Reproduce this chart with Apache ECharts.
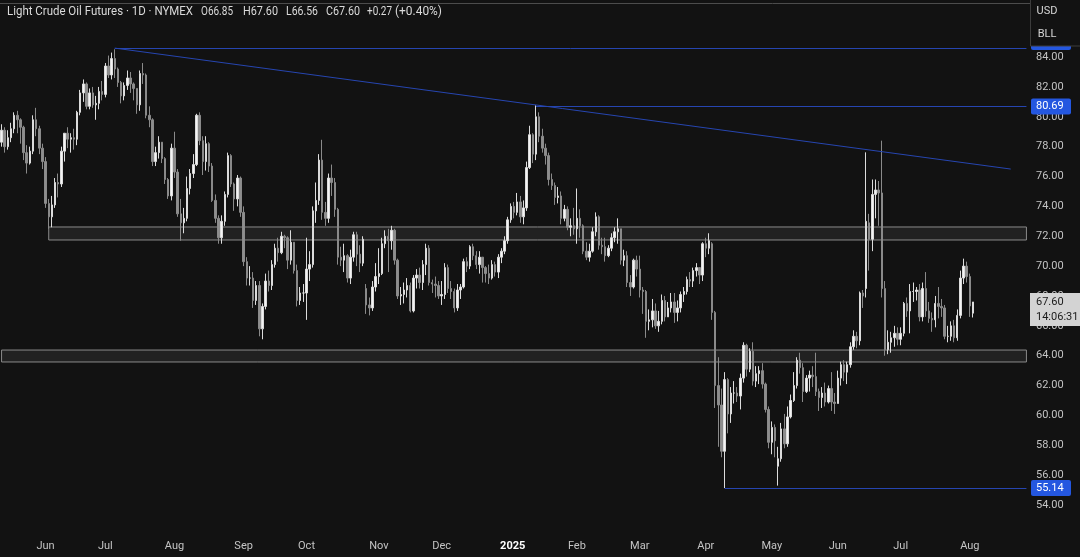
<!DOCTYPE html>
<html><head><meta charset="utf-8">
<script src="https://cdn.jsdelivr.net/npm/echarts@6/dist/echarts.min.js"></script>
<style>html,body{margin:0;padding:0;background:#121212;overflow:hidden}#c{width:1080px;height:557px}</style>
</head><body><div id="c"></div><script>
// ---------- DATA ----------
const firstDate = '2024-05-13';
const holidays = ['2024-05-27','2024-06-19','2024-07-04','2024-09-02','2024-11-28','2024-12-25','2025-01-01','2025-04-18','2025-05-26','2025-06-19','2025-07-04'];
const futureBars = 17;
const monthNames = ['Jan','Feb','Mar','Apr','May','Jun','Jul','Aug','Sep','Oct','Nov','Dec'];
// each bar: [open, close, low, high]
const may24 = [[78.3,79.1,78.0,79.5],[79.1,78.0,77.6,79.3],[78.0,78.6,77.8,79.1],[78.6,79.2,78.3,79.6],[79.2,80.1,78.9,80.3],
[80.1,79.8,78.9,80.4],[79.8,79.3,78.2,79.9],[79.3,77.6,77.1,79.4],[77.6,76.9,76.2,78.1],[76.9,77.7,76.8,78.0],
[77.7,79.8,77.5,80.1],[79.8,79.2,78.7,80.6],[79.2,77.9,77.5,79.4],[77.9,77.0,76.5,78.2]];
const jun24 = [[77.0,74.2,73.9,77.3],[74.2,73.3,72.5,74.5],[73.3,74.1,72.6,74.7],[74.1,75.6,73.9,75.9],[75.6,75.5,74.6,76.2],
[75.5,77.7,75.3,78.0],[77.7,78.9,77.0,78.9],[78.9,78.5,77.9,79.3],[78.5,78.6,77.6,78.9],[78.6,78.5,77.8,79.2],
[78.5,80.3,78.1,80.4],[80.3,81.6,80.1,81.8],[81.6,82.2,81.0,82.5],[82.2,80.7,80.5,82.3],
[80.7,81.6,80.5,81.9],[81.6,80.8,80.6,82.0],[80.8,80.9,79.8,81.4],[80.9,81.7,80.5,82.0],[81.7,81.5,81.1,82.4]];
const jul24 = [[81.5,83.4,81.3,83.6],[83.4,82.8,82.6,84.1],[82.8,83.9,82.5,84.3],[83.9,83.2,82.6,84.52],
[83.2,82.3,82.0,83.3],[82.3,81.4,80.9,82.4],[81.4,82.1,81.1,82.3],[82.1,82.6,81.8,83.1],[82.6,82.2,81.6,83.0],
[82.2,81.9,81.1,82.3],[81.9,80.8,80.2,81.9],[80.8,82.9,80.4,83.1],[82.9,82.8,82.2,83.6],[82.8,80.1,79.9,82.9],
[80.1,79.8,79.3,80.7],[79.8,77.0,76.7,79.9],[77.0,77.6,76.7,78.0],[77.6,78.3,77.2,78.7],[78.3,77.2,76.9,78.3],
[77.2,75.8,75.5,77.3],[75.8,74.7,74.5,75.9],[74.7,77.9,74.4,78.2]];
const aug24 = [[77.9,76.3,75.9,79.0],[76.3,73.5,73.3,76.5],
[73.5,72.9,71.7,74.5],[72.9,73.2,72.2,73.9],[73.2,75.2,73.0,76.0],[75.2,76.2,74.8,76.5],[76.2,76.8,75.9,77.5],
[76.8,80.1,76.7,80.2],[80.1,78.4,78.1,80.3],[78.4,77.0,76.1,78.7],[77.0,78.2,76.4,78.7],[78.2,76.7,76.3,78.3],
[76.7,74.4,74.3,76.9],[74.4,73.2,72.9,74.8],[73.2,71.9,71.5,73.4],[71.9,73.0,71.5,73.4],[73.0,74.8,72.7,75.0],
[74.8,77.4,74.6,77.6],[77.4,75.5,75.3,77.5],[75.5,74.5,73.7,75.6],[74.5,75.9,74.0,76.1],[75.9,73.6,73.3,76.0]];
const sep24 = [[73.6,70.3,70.0,74.0],[70.3,69.2,68.7,70.6],[69.2,69.2,68.7,70.0],[69.2,67.7,67.2,69.6],
[67.7,68.7,67.4,69.0],[68.7,65.8,65.3,69.0],[65.8,67.3,65.1,67.5],[67.3,69.0,67.1,69.5],[69.0,68.7,68.3,69.7],
[68.7,70.1,68.4,70.4],[70.1,71.2,69.9,71.5],[71.2,70.9,70.3,71.9],[70.9,72.0,70.8,72.3],[72.0,71.9,71.2,72.1],
[71.9,70.4,69.8,72.0],[70.4,71.6,70.1,72.4],[71.6,69.7,69.5,71.6],[69.7,67.7,67.3,70.1],[67.7,68.2,67.4,68.6],
[68.2,68.2,67.6,68.8]];
const oct24 = [[68.2,69.8,66.4,71.9],[69.8,70.1,69.0,71.0],[70.1,73.7,69.9,74.0],[73.7,74.4,72.9,75.6],
[74.4,77.1,74.1,77.5],[77.1,73.6,73.1,78.46],[73.6,73.2,72.7,74.3],[73.2,75.9,72.9,76.2],[75.9,75.6,74.7,76.8],
[75.6,73.8,73.3,75.9],[73.8,70.6,70.1,73.9],[70.6,70.4,70.0,71.3],[70.4,70.7,69.6,71.5],[70.7,69.2,68.9,70.8],
[69.2,70.6,68.8,71.1],[70.6,72.1,70.3,72.3],[72.1,70.8,70.0,72.3],[70.8,70.2,69.6,71.4],[70.2,71.8,70.0,72.0],
[68.5,67.4,66.8,68.8],[67.4,67.2,66.7,67.9],[67.2,68.6,67.0,69.0],[68.6,69.3,68.3,70.2]];
const nov24 = [[69.3,69.5,68.8,71.2],
[69.5,71.5,69.4,71.9],[71.5,72.0,71.2,72.4],[72.0,71.7,69.6,72.5],[71.7,72.4,71.1,72.7],[72.4,70.4,70.1,72.5],
[70.4,68.0,67.8,70.5],[68.0,68.1,67.4,68.6],[68.1,68.4,67.5,68.9],[68.4,68.7,67.9,69.2],[68.7,67.0,66.9,68.9],
[67.0,69.2,66.9,69.4],[69.2,69.4,68.5,69.8],[69.4,68.9,68.5,69.9],[68.9,70.1,68.4,70.4],[70.1,71.2,69.4,71.5],
[71.2,68.9,68.7,71.4],[68.9,68.8,68.2,69.1],[68.8,68.7,67.9,69.3],[68.7,68.0,67.8,69.0]];
const dec24 = [[68.0,68.1,67.4,69.0],[68.1,69.9,67.8,70.2],[69.9,68.5,68.2,70.1],[68.5,68.3,67.8,69.0],[68.3,67.2,66.9,68.5],
[67.2,68.4,67.0,68.8],[68.4,68.6,67.8,68.8],[68.6,70.3,68.5,70.5],[70.3,70.0,69.6,70.6],[70.0,71.3,69.8,71.4],
[71.3,70.7,70.4,71.5],[70.7,70.1,69.8,71.0],[70.1,70.6,69.5,71.0],[70.6,69.9,68.9,70.6],[69.9,69.5,68.9,70.0],
[69.5,69.2,68.8,70.1],[69.2,70.1,69.1,70.4],[70.1,69.6,69.3,70.3],[69.6,70.6,69.2,70.8],
[70.6,71.0,70.2,71.2],[71.0,71.7,70.8,72.0]];
const jan25 = [[71.7,73.1,71.5,73.3],[73.1,74.0,72.9,74.2],
[74.0,73.6,73.2,74.3],[73.6,74.3,73.4,74.9],[74.3,73.3,72.9,74.7],[73.3,73.9,72.8,74.4],[73.9,76.6,73.7,77.0],
[76.6,78.8,76.5,79.4],[78.8,77.5,76.9,78.9],[77.5,80.0,77.1,80.77],[80.0,78.7,78.3,80.3],[78.7,77.9,77.6,79.2],
[77.9,77.4,76.8,78.2],[77.4,75.8,75.4,77.6],[75.8,75.4,75.1,76.2],[75.4,74.6,74.1,75.6],[74.6,74.7,74.2,75.3],
[74.7,73.2,72.8,75.0],[73.2,73.8,73.0,74.1],[73.8,72.6,72.4,74.0],[72.6,72.7,72.0,73.2],[72.7,72.5,72.1,73.9]];
const feb25 = [[72.5,73.2,71.5,75.2],[73.2,72.7,71.9,73.8],[72.7,71.0,70.8,72.8],[71.0,70.6,70.4,71.6],[70.6,71.0,70.3,71.5],
[71.0,72.3,70.9,72.6],[72.3,73.3,72.0,73.6],[73.3,71.4,71.1,73.4],[71.4,71.3,70.8,71.9],[71.3,70.7,70.3,71.9],
[70.7,71.2,70.6,71.4],[71.2,71.9,71.0,72.2],[71.9,72.3,71.6,72.6],[72.3,72.5,71.5,73.2],[72.5,70.4,70.1,72.5],
[70.4,70.7,70.0,71.1],[70.7,68.9,68.6,71.0],[68.9,68.6,68.0,69.4],[68.6,70.4,68.5,70.5],[70.4,69.8,69.3,70.7]];
const mar25 = [[69.8,68.4,67.9,70.7],[68.4,68.3,66.8,68.6],[68.3,66.3,65.2,68.4],[66.3,66.4,65.7,67.1],[66.4,67.0,65.9,67.8],
[67.0,66.0,65.8,67.5],[66.0,66.3,65.6,67.0],[66.3,67.7,66.1,68.1],[67.7,66.6,66.3,68.0],[66.6,67.2,66.6,67.6],
[67.2,67.6,66.9,68.2],[67.6,66.9,66.2,68.2],[66.9,67.2,66.3,67.7],[67.2,68.1,66.9,68.3],[68.1,68.3,67.6,68.6],
[68.3,69.1,68.1,69.3],[69.1,69.0,68.6,69.6],[69.0,69.7,68.6,69.9],[69.7,69.9,69.3,70.2],[69.9,69.4,68.8,69.9],
[69.4,71.5,69.0,71.6]];
const apr25 = [[71.5,71.2,70.6,71.9],[71.2,71.7,70.8,72.2],[71.5,66.9,66.4,71.6],[66.9,62.0,60.5,67.0],
[62.0,60.7,57.9,63.9],[60.7,57.6,57.2,61.8],[57.6,62.4,55.14,62.9],[62.4,60.1,58.8,62.5],[60.1,61.5,59.5,61.9],
[61.5,61.5,60.8,62.3],[61.5,61.3,60.9,61.9],[61.3,62.5,60.4,62.8],[62.5,64.7,62.2,64.9],
[64.7,63.1,62.6,64.8],[63.1,64.3,62.9,64.5],[64.3,62.3,62.0,64.9],[62.3,62.8,61.9,63.3],[62.8,63.0,62.1,63.3],
[63.0,62.1,61.8,63.5],[62.1,60.4,60.2,62.2],[60.4,58.2,57.8,60.6]];
const may25 = [[58.2,59.2,57.4,59.6],[59.2,58.3,57.2,59.4],
[56.6,57.1,55.3,57.9],[57.1,59.1,56.9,59.5],[59.1,58.1,57.8,60.1],[58.1,59.9,57.9,60.6],[59.9,61.0,59.8,61.4],
[61.0,62.0,60.9,62.9],[62.0,63.7,61.8,63.9],[63.7,63.2,62.8,64.2],[63.2,61.6,60.9,63.5],[61.6,62.5,61.5,62.7],
[62.5,62.7,61.6,63.0],[62.7,62.6,61.9,63.3],[62.6,61.6,61.3,64.2],[61.6,61.2,60.3,61.8],[61.2,61.5,60.5,61.9],
[61.5,60.9,60.6,62.2],[60.9,61.8,60.8,62.0],[61.8,60.9,60.3,62.9],[60.9,60.8,60.1,61.5]];
const jun25 = [[60.8,62.5,60.8,63.0],[62.5,63.4,62.0,63.6],[63.4,62.9,62.3,63.7],[62.9,63.4,62.1,63.6],[63.4,64.6,63.2,64.9],
[64.6,65.3,64.4,65.7],[65.3,65.0,64.5,65.6],[65.0,68.2,64.7,68.3],[68.2,68.0,67.2,68.4],[68.5,73.0,67.9,77.62],
[72.9,71.8,69.7,73.5],[71.8,74.8,71.0,75.8],[74.8,75.1,73.2,75.8],[75.1,74.9,72.7,75.7],
[74.9,68.5,67.9,78.40],[68.5,64.4,64.0,69.0],[64.4,64.9,64.1,65.7],[64.9,65.2,64.2,65.6],[65.2,65.5,64.6,66.0],
[65.5,65.1,64.7,65.9]];
const jul25 = [[65.1,65.5,64.7,65.9],[65.5,67.5,65.3,67.6],[67.5,67.0,66.6,67.9],
[67.0,68.3,65.5,68.8],[68.3,68.3,67.6,68.9],[68.3,68.4,67.7,68.6],[68.4,66.6,66.3,68.8],[66.6,68.5,66.3,68.9],
[68.5,67.0,66.6,69.6],[67.0,66.5,66.2,67.6],[66.5,66.4,65.6,66.9],[66.4,67.5,65.9,68.0],[67.5,67.3,66.5,68.6],
[67.3,67.2,66.6,67.8],[67.2,65.3,65.1,67.4],[65.3,65.3,64.9,66.0],[65.3,66.0,65.0,66.3],[66.0,65.2,64.9,66.4],
[65.2,66.7,65.0,67.1],[66.7,69.2,66.5,69.7],[69.2,70.0,68.8,70.5],[70.0,69.3,68.9,70.3]];
const aug25 = [[69.3,67.33,66.6,69.5],[66.85,67.6,66.56,67.6]];

// drawings (date, price)
const trendline = [['2024-07-05', 84.6], ['2025-08-20', 76.5]];
const hLevels = [
  {from:'2024-07-05', value:84.6, label:''},
  {from:'2025-01-15', value:80.69, label:'80.69'},
  {from:'2025-04-09', value:55.14, label:'55.14'}
];
const zones = [
  {from:'2024-06-04', top:72.62, bottom:71.75},
  {from:'2024-05-13', top:64.38, bottom:63.58}
];
const header = {title:'Light Crude Oil Futures · 1D · NYMEX', o:'O66.85', h:'H67.60', l:'L66.56', c:'C67.60', chg:'+0.27', pct:'(+0.40%)'};
const lastPrice = 67.60, countdown = '14:06:31';
const yTicks = {min:52, max:86, step:2};

// ---------- BUILD ----------
const ohlc = [].concat(may24,jun24,jul24,aug24,sep24,oct24,nov24,dec24,jan25,feb25,mar25,apr25,may25,jun25,jul25,aug25);
const categories = [];
(function(){
  const p = firstDate.split('-').map(Number);
  const d = new Date(Date.UTC(p[0], p[1]-1, p[2]));
  while (categories.length < ohlc.length + futureBars) {
    const wd = d.getUTCDay(); const s = d.toISOString().slice(0,10);
    if (wd !== 0 && wd !== 6 && holidays.indexOf(s) < 0) categories.push(s);
    d.setUTCDate(d.getUTCDate()+1);
  }
})();
const lastCat = categories[categories.length-1];

const FONT = 'Roboto, "Liberation Sans", sans-serif';
const chart = echarts.init(document.getElementById('c'), null, {renderer:'canvas'});
const blue = '#2645b0';

chart.setOption({
  backgroundColor:'#121212',
  animation:false,
  grid:{left:0, right:52, top:27.2, bottom:22.1, containLabel:false},
  xAxis:{
    type:'category', data:categories, boundaryGap:true,
    axisLine:{show:false}, axisTick:{show:false}, splitLine:{show:false},
    axisLabel:{
      margin:6, color:'#c4c4c4', fontSize:11, fontFamily:FONT,
      interval:function(i){ return i>0 && categories[i].slice(5,7)!==categories[i-1].slice(5,7); },
      formatter:function(v){ const m = +v.slice(5,7); return m===1 ? '{y|'+v.slice(0,4)+'}' : monthNames[m-1]; },
      rich:{y:{fontWeight:'bold', color:'#ffffff', fontSize:11, fontFamily:FONT, padding:[0,0,0,10]}}
    }
  },
  yAxis:{
    type:'value', position:'right', min:yTicks.min, max:yTicks.max, interval:yTicks.step, scale:true,
    axisLine:{show:false}, axisTick:{show:false}, splitLine:{show:false},
    axisLabel:{margin:8, color:'#c4c4c4', fontSize:11, fontFamily:FONT,
      formatter:function(v){ return v < yTicks.min + 1 ? '' : v.toFixed(2); }}
  },
  series:[{
    type:'candlestick', data:ohlc, barWidth:'62%',
    itemStyle:{color:'#f4f4f4', borderColor:'#dcdcdc', color0:'#8e8e8e', borderColor0:'#8a8a8a', borderWidth:1},
    markArea:{silent:true, data: zones.map(z => [
      {coord:[z.from, z.top], itemStyle:{color:'rgba(190,190,190,0.09)', borderColor:'#8a8a8a', borderWidth:1}},
      {coord:[lastCat, z.bottom]}
    ])},
    markLine:{silent:true, symbol:['none','none'], label:{show:false},
      lineStyle:{color:blue, width:1, type:'solid'},
      data:[[{coord:trendline[0]},{coord:trendline[1]}]].concat(
        hLevels.map(h => [{coord:[h.from, h.value]},{coord:[lastCat, h.value]}]))
    }
  }]
});

// ---------- overlays (axis tags, header, panel) ----------
const py = v => chart.convertToPixel({yAxisIndex:0}, v);
const cv = document.createElement('canvas').getContext('2d');
function fitText(str, x, yMid, targetW, opt){
  opt = opt || {};
  const size = opt.size || 12, weight = opt.weight || 'normal';
  cv.font = weight+' '+size+'px '+FONT;
  const w = cv.measureText(str).width;
  return {type:'text', x:x, y:yMid, scaleX: targetW ? targetW/w : 1, z:60,
    style:{text:str, x:0, y:0, fill:opt.color||'#dadada', font:weight+' '+size+'px '+FONT, textVerticalAlign:'middle', verticalAlign:'middle'}};
}
const g = [];
g.push({type:'line', z:55, shape:{x1:0,y1:3.5,x2:1030,y2:3.5}, style:{stroke:'#4c4c4c', lineWidth:1}});
g.push(fitText(header.title, 7, 11.5, 186));
g.push(fitText(header.o, 201, 11.5, 32));
g.push(fitText(header.h, 243, 11.5, 35));
g.push(fitText(header.l, 286, 11.5, 32));
g.push(fitText(header.c, 326, 11.5, 34));
g.push(fitText(header.chg, 367, 11.5, 25));
g.push(fitText(header.pct, 395, 11.5, 47));
// blue level tags
hLevels.forEach(h => {
  const y = py(h.value);
  if (!h.label) {
    g.push({type:'rect', z:58, shape:{x:1031, y:y-8, width:40, height:10, r:2}, style:{fill:'#2457e0'}});
    return;
  }
  g.push({type:'rect', z:58, shape:{x:1031, y:y-8, width:40, height:16, r:2}, style:{fill:'#2457e0'}});
  g.push({type:'text', z:59, x:1036, y:y, style:{text:h.label, fill:'#ffffff', font:'11px '+FONT, textVerticalAlign:'middle', verticalAlign:'middle'}});
});
// last price + countdown
const yl = py(lastPrice);
g.push({type:'rect', z:58, shape:{x:1030, y:yl-9, width:50, height:33}, style:{fill:'#d3d3d3'}});
g.push({type:'text', z:59, x:1036, y:yl, style:{text:lastPrice.toFixed(2), fill:'#1a1a1a', font:'11px '+FONT, textVerticalAlign:'middle', verticalAlign:'middle'}});
g.push({type:'text', z:59, x:1036, y:yl+15, style:{text:countdown, fill:'#1a1a1a', font:'11px '+FONT, textVerticalAlign:'middle', verticalAlign:'middle'}});
// currency / unit panel
g.push({type:'rect', z:62, shape:{x:1030.5, y:-1, width:52, height:47}, style:{fill:'#121212', stroke:'#3c3c3c', lineWidth:1}});
g.push({type:'text', z:63, x:1047, y:11.5, style:{text:'USD', fill:'#d6d6d6', font:'11px '+FONT, textAlign:'center', align:'center', textVerticalAlign:'middle', verticalAlign:'middle'}});
g.push({type:'text', z:63, x:1047, y:34.5, style:{text:'BLL', fill:'#d6d6d6', font:'11px '+FONT, textAlign:'center', align:'center', textVerticalAlign:'middle', verticalAlign:'middle'}});
chart.setOption({graphic:g});
</script></body></html>
